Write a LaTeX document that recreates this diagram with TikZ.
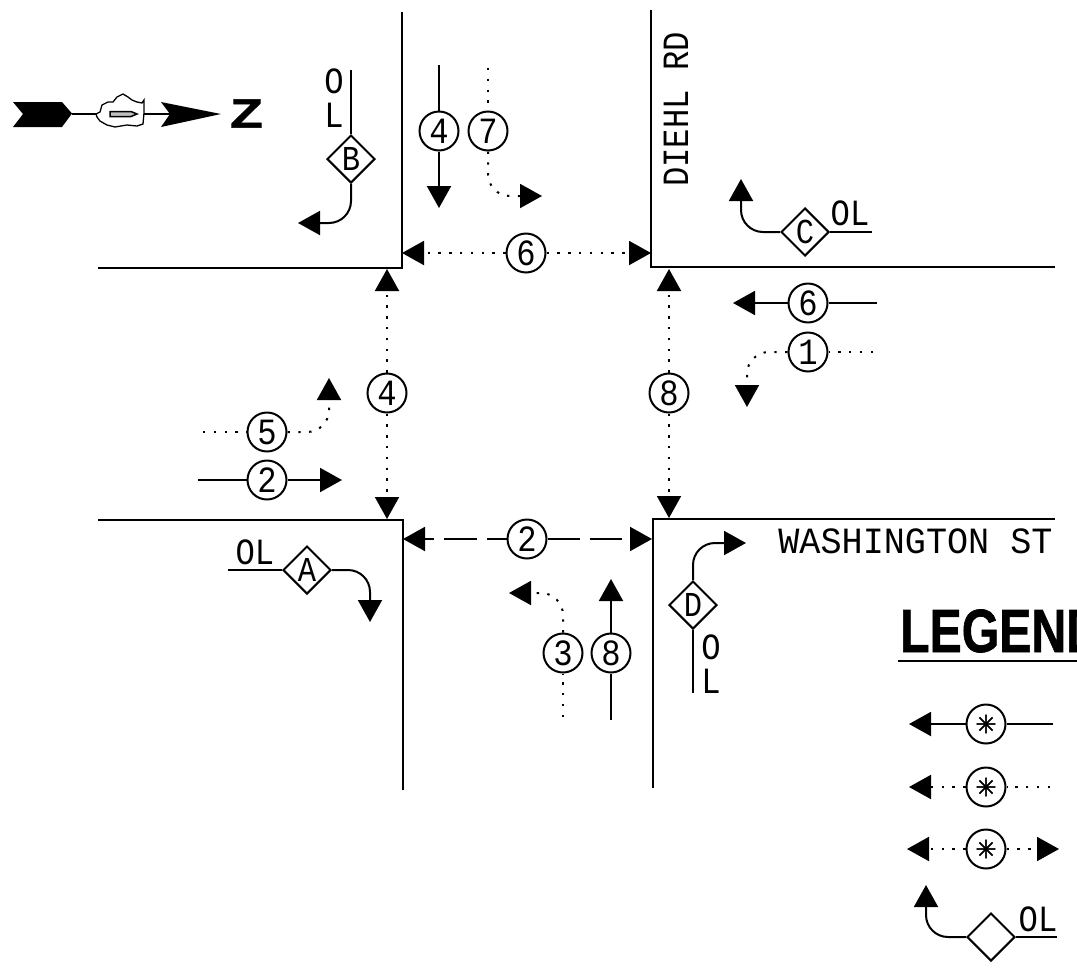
\documentclass[tikz,border=0pt]{standalone}
\usepackage{fontspec}
\setmainfont{Liberation Mono}
\newfontfamily\headfont[FakeBold=1.2]{Liberation Sans Bold}
\newfontfamily\symfont[FakeBold=1.5]{DejaVu Sans}
\usetikzlibrary{arrows.meta,shapes.geometric}
\newcommand\cadtxt[1]{\scalebox{.87}[1]{#1}}
\tikzset{
  x=1pt,y=-1pt,
  ink/.style={line width=2pt,black},
  road/.style={line width=2.2pt,black},
  tipped/.style={-{Triangle[length=22pt,width=24pt]}},
  dots/.style={dash pattern=on 2.4pt off 8.4pt},
  phase/.style={circle,draw,ink,minimum size=39pt,inner sep=0pt,font=\fontsize{37}{37}\selectfont},
  keyphase/.style={circle,draw,ink,minimum size=39pt,inner sep=0pt,font=\symfont\fontsize{25}{25}\selectfont},
  overlap/.style={diamond,aspect=1,draw,ink,minimum size=48pt,inner sep=0pt,font=\fontsize{35}{35}\selectfont},
  lbl/.style={inner sep=0pt,font=\fontsize{37}{37}\selectfont},
  turn/.style={rounded corners=22pt},
}
\begin{document}
\begin{tikzpicture}
\useasboundingbox (0,0) rectangle (1077,975);
% roads
\coordinate (tlA) at (402,12); \coordinate (tlC) at (402,268); \coordinate (tlB) at (98,268);
\coordinate (trA) at (651,10); \coordinate (trC) at (651,267); \coordinate (trB) at (1055,267);
\coordinate (blA) at (98,520); \coordinate (blC) at (403,520); \coordinate (blB) at (403,790);
\coordinate (brA) at (653,788); \coordinate (brC) at (653,519); \coordinate (brB) at (1055,519);
\draw[road] (tlA)--(tlC)--(tlB);
\draw[road] (trA)--(trC)--(trB);
\draw[road] (blA)--(blC)--(blB);
\draw[road] (brA)--(brC)--(brB);
% street names
\node[lbl,rotate=90] (diehl) at (676,109.5) {\scalebox{.87}[1]{DIEHL RD}};
\node[lbl] (wash) at (915.5,541.5) {\scalebox{.95}[1]{WASHINGTON ST}};
% north arrow
\fill[black] (13,102)--(62,102)--(72,113.5)--(62,127)--(13,127)--(23,114)--cycle;
\coordinate (nTail) at (72,113.5);
\node[inner sep=0pt,minimum width=48pt,minimum height=33pt] (cloud) at (120,111) {};
\coordinate (nHead) at (170,113.5);
\draw[ink] (nTail)--(cloud.west|-nTail);
\draw[ink] (cloud.east|-nTail)--(nHead);
\draw[line width=1.3pt,fill=white] (96,114)--(100,112)--(102,105)--(108,102)--(113,102)--(117,97)--(123,94)--(128,97)--(132,100)--(137,102)--(142,103)--(144,100)--(144,113)--(143,124)--(137,126)--(127,125)--(115,127)--(107,125)--(100,121)--(97,117)--cycle;
\draw[line width=1.5pt,fill=black!25] (110,111.5)--(131,111.5)--(137,114)--(131,116.5)--(110,116.5)--cycle;
\fill[black] (161,102)--(221,114)--(161,127)--(170,114)--cycle;
\node[inner sep=0pt,font=\headfont\fontsize{41}{41}\selectfont] (north) at (246.5,113.5) {\scalebox{1.3}[1]{Z}};
% diamonds
\node[overlap] (B) at (351,159) {\cadtxt{B}};
\coordinate (Bend) at (351,70);
\coordinate (Btip) at (298,223);
\draw[ink] (Bend)--(B.north);
\draw[ink,tipped,turn] (B.south)|-(Btip);
\node[lbl] (BO) at (334,81) {\cadtxt{O}};
\node[lbl] (BL) at (334,115) {\cadtxt{L}};

\node[overlap] (C) at (805,232) {\cadtxt{C}};
\coordinate (Cend) at (872,232);
\coordinate (Ctip) at (741,179);
\draw[ink] (C.east)--(Cend);
\draw[ink,tipped,turn] (C.west)-|(Ctip);
\node[lbl] (COL) at (850,213) {\cadtxt{OL}};

\node[overlap] (A) at (307,570) {\cadtxt{A}};
\coordinate (Aend) at (228,570);
\coordinate (Atip) at (370,622);
\draw[ink] (Aend)--(A.west);
\draw[ink,tipped,turn] (A.east)-|(Atip);
\node[lbl] (AOL) at (255,552) {\cadtxt{OL}};

\node[overlap] (D) at (693,605) {\cadtxt{D}};
\coordinate (Dend) at (693,693);
\coordinate (Dtip) at (746,543);
\draw[ink] (D.south)--(Dend);
\draw[ink,tipped,turn] (D.north)|-(Dtip);
\node[lbl] (DO) at (711,647) {\cadtxt{O}};
\node[lbl] (DL) at (711,681) {\cadtxt{L}};
% top approach
\node[phase] (p4t) at (439,131) {\cadtxt{4}};
\coordinate (p4ts) at (439,65); \coordinate (p4te) at (439,208);
\draw[ink] (p4ts)--(p4t);
\draw[ink,tipped] (p4t)--(p4te);
\node[phase] (p7) at (488,131) {\cadtxt{7}};
\coordinate (p7s) at (488,68); \coordinate (p7e) at (542,196);
\draw[ink,dots] (p7s)--(p7);
\draw[ink,dots,tipped,turn] (p7.south)|-(p7e);
% crosswalks
\node[phase] (p6c) at (526,253) {\cadtxt{6}};
\coordinate (p6l) at (402,253); \coordinate (p6r) at (651,253);
\draw[ink,dots,tipped] (p6c)--(p6l);
\draw[ink,dots,tipped] (p6c)--(p6r);
\node[phase] (p4c) at (387,393) {\cadtxt{4}};
\coordinate (p4u) at (387,269); \coordinate (p4d) at (387,519);
\draw[ink,dots,tipped] (p4c)--(p4u);
\draw[ink,dots,tipped] (p4c)--(p4d);
\node[phase] (p8c) at (669,393) {\cadtxt{8}};
\coordinate (p8u) at (669,269); \coordinate (p8d) at (669,518);
\draw[ink,dots,tipped] (p8c)--(p8u);
\draw[ink,dots,tipped] (p8c)--(p8d);
\node[phase] (p2c) at (527,539) {\cadtxt{2}};
\coordinate (p2l) at (403,539); \coordinate (p2r) at (652,539);
\draw[ink,dash pattern=on 33pt off 10pt,dash phase=13pt,tipped] (p2c)--(p2l);
\draw[ink,dash pattern=on 32pt off 10pt,tipped] (p2c)--(p2r);
% right approach
\node[phase] (p6r0) at (808,303) {\cadtxt{6}};
\coordinate (p6rs) at (877,303); \coordinate (p6re) at (733,303);
\draw[ink] (p6rs)--(p6r0);
\draw[ink,tipped] (p6r0)--(p6re);
\node[phase] (p1) at (808,352) {\cadtxt{1}};
\coordinate (p1s) at (873,352); \coordinate (p1e) at (747,407);
\draw[ink,dots] (p1s)--(p1);
\draw[ink,dots,tipped,turn] (p1.west)-|(p1e);
% left approach
\node[phase] (p5) at (267,432) {\cadtxt{5}};
\coordinate (p5s) at (203,432); \coordinate (p5e) at (329,378);
\draw[ink,dots] (p5s)--(p5);
\draw[ink,dots,tipped,turn] (p5.east)-|(p5e);
\node[phase] (p2l0) at (267,480) {\cadtxt{2}};
\coordinate (p2ls) at (198,480); \coordinate (p2le) at (342,480);
\draw[ink] (p2ls)--(p2l0);
\draw[ink,tipped] (p2l0)--(p2le);
% bottom approach
\node[phase] (p3) at (563,653) {\cadtxt{3}};
\coordinate (p3s) at (563,717); \coordinate (p3e) at (509,593);
\draw[ink,dots] (p3s)--(p3);
\draw[ink,dots,tipped,turn] (p3.north)|-(p3e);
\node[phase] (p8b) at (611,653) {\cadtxt{8}};
\coordinate (p8bs) at (611,720); \coordinate (p8be) at (611,579);
\draw[ink] (p8bs)--(p8b);
\draw[ink,tipped] (p8b)--(p8be);
% legend
\begin{scope}
\clip (0,0) rectangle (1077,975);
\node[anchor=base west,inner sep=0pt,font=\headfont\fontsize{61}{61}\selectfont] (legend) at (900,652) {\scalebox{.79}[1]{LEGEND}};
\coordinate (ulA) at (898,661); \coordinate (ulB) at (1077,661);
\draw[line width=2.4pt] (ulA)--(ulB);
\end{scope}
\node[keyphase] (k1) at (986,724) {✳};
\coordinate (k1s) at (1053,724); \coordinate (k1e) at (909,724);
\draw[ink] (k1s)--(k1);
\draw[ink,tipped] (k1)--(k1e);
\node[keyphase] (k2) at (986,787) {✳};
\coordinate (k2s) at (1050,787); \coordinate (k2e) at (909,787);
\draw[ink,dots] (k2s)--(k2);
\draw[ink,dots,tipped] (k2)--(k2e);
\node[keyphase] (k3) at (986,849) {✳};
\coordinate (k3l) at (907,849); \coordinate (k3r) at (1059,849);
\draw[ink,dots,tipped] (k3)--(k3l);
\draw[ink,dots,tipped] (k3)--(k3r);
\node[overlap] (k4) at (991,937) {};
\coordinate (k4s) at (1057,937); \coordinate (k4e) at (926,885);
\draw[ink] (k4.east)--(k4s);
\draw[ink,tipped,turn] (k4.west)-|(k4e);
\node[lbl] (k4ol) at (1038,919) {\cadtxt{OL}};
\end{tikzpicture}
\end{document}
